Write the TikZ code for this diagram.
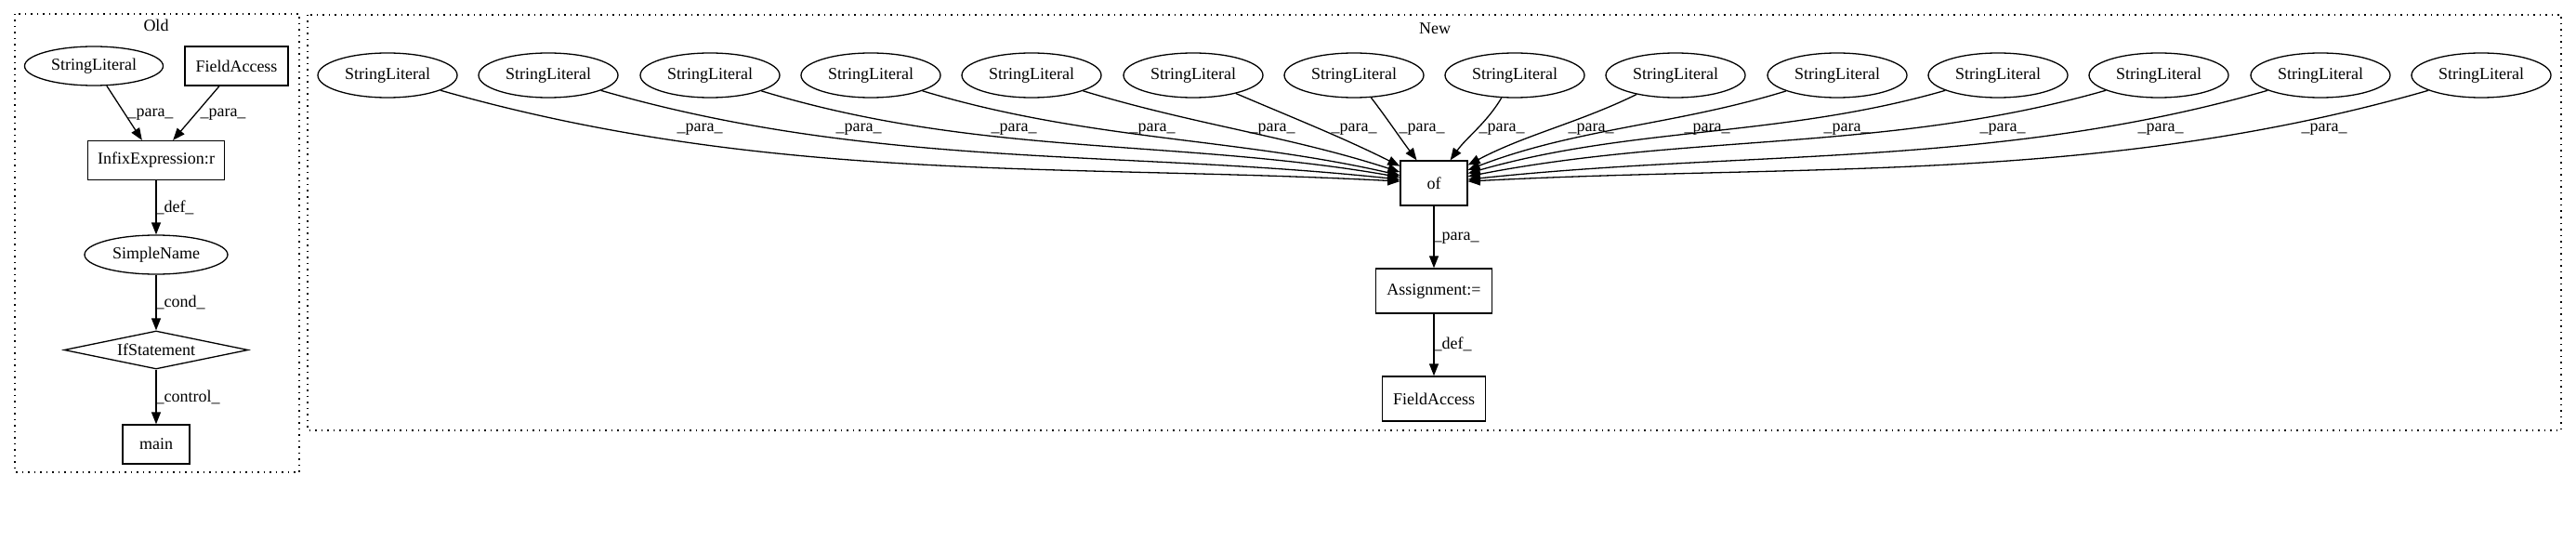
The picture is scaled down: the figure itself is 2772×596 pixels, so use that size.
\documentclass[tikz,border=0pt]{standalone}
\usepackage{fontspec}
\setmainfont{Liberation Serif}
\usetikzlibrary{shapes.geometric,arrows.meta}

\begin{document}
\begin{tikzpicture}[x=1pt,y=-1pt,line width=1.3pt,
    every node/.style={font=\fontsize{18}{20}\selectfont, inner sep=0pt},
    lit/.style={draw, ellipse, minimum width=150pt, minimum height=48pt},
    box/.style={draw, rectangle, minimum height=48pt},
    old/.style={minimum height=42pt},
    test/.style={draw, diamond, aspect=4.8, minimum width=198pt, minimum height=41pt},
    flow/.style={-{Triangle[length=13pt,width=10pt]}},
    cluster/.style={dash pattern=on 1.5pt off 5pt}]
\useasboundingbox (0,0) rectangle (2772,596);

%% The two dotted frames with their titles
    \draw[cluster] (16,15) rectangle (322,508);
    \draw[cluster] (331,16) rectangle (2756,463);
    \node (oldtitle) at (168,27) {Old};
    \node (newtitle) at (1544,31) {New};

%% Old: a single column under the infix expression
    \node[lit, old, minimum width=149pt] (oldlit) at (101,71) {StringLiteral};
    \node[box, old, minimum width=111pt] (oldfield) at (254.5,71) {FieldAccess};
    \node[box, old, minimum width=147pt] (infix) at (168,172.5) {InfixExpression:r};
    \node[lit, old, minimum width=154pt] (simple) at (168,274) {SimpleName};
    \node[test] (ifst) at (168,376.5) {IfStatement};
    \node[box, old, minimum width=72pt] (main) at (168,478) {main};

    \draw[flow] (oldlit) -- (infix.125);
    \draw[flow] (oldfield) -- (infix.50);
    \draw[flow] (infix) -- (simple);
    \draw[flow] (simple) -- (ifst);
    \draw[flow] (ifst) -- (main);

    \node (p1) at (162,123) {\_para\_};
    \node (p2) at (240,123) {\_para\_};
    \node (d1) at (188,223) {\_def\_};
    \node (c1) at (194,325) {\_cond\_};
    \node (c2) at (202,427) {\_control\_};

%% New: fourteen literals all feeding the call of
    \node[lit] (s1) at (417,81) {StringLiteral};
    \node[lit] (s2) at (590,81) {StringLiteral};
    \node[lit] (s3) at (764,81) {StringLiteral};
    \node[lit] (s4) at (937,81) {StringLiteral};
    \node[lit] (s5) at (1110,81) {StringLiteral};
    \node[lit] (s6) at (1284,81) {StringLiteral};
    \node[lit] (s7) at (1457,81) {StringLiteral};
    \node[lit] (s8) at (1630,81) {StringLiteral};
    \node[lit] (s9) at (1803,81) {StringLiteral};
    \node[lit] (s10) at (1977,81) {StringLiteral};
    \node[lit] (s11) at (2150,81) {StringLiteral};
    \node[lit] (s12) at (2323,81) {StringLiteral};
    \node[lit] (s13) at (2497,81) {StringLiteral};
    \node[lit] (s14) at (2670,81) {StringLiteral};

    \node[box, minimum width=72pt] (of) at (1543,197) {of};
    \node[box, minimum width=125pt] (assign) at (1543,313) {Assignment:=};
    \node[box, minimum width=111pt] (newfield) at (1543,429) {FieldAccess};

    \draw[flow] (s1) .. controls (828,198) and (1144,176) .. (of);
    \draw[flow] (s2) .. controls (940,182) and (1205,161) .. (of);
    \draw[flow] (s3) .. controls (1053,169) and (1267,149) .. (of);
    \draw[flow] (s4) .. controls (1169,151) and (1329,148) .. (of);
    \draw[flow] (s5) .. controls (1285,134) and (1389,147) .. (of);
    \draw[flow] (s6) .. controls (1392,127) and (1445,148) .. (of);
    \draw[flow] (s7) .. controls (1493,128) and (1507,149) .. (of);
    \draw[flow] (s8) .. controls (1600,132) and (1578,148) .. (of);
    \draw[flow] (s9) .. controls (1699,132) and (1641,145) .. (of);
    \draw[flow] (s10) .. controls (1803,134.5) and (1696,138) .. (of);
    \draw[flow] (s11) .. controls (1917,148) and (1756,136) .. (of);
    \draw[flow] (s12) .. controls (2032,164) and (1819,143) .. (of);
    \draw[flow] (s13) .. controls (2148,181) and (1882,161) .. (of);
    \draw[flow] (s14) .. controls (2262,198) and (1945,176) .. (of);
    \draw[flow] (of) -- (assign);
    \draw[flow] (assign) -- (newfield);

    \node (q1) at (753,139) {\_para\_};
    \node (q2) at (924,139) {\_para\_};
    \node (q3) at (1091,139) {\_para\_};
    \node (q4) at (1240,139) {\_para\_};
    \node (q5) at (1369,139) {\_para\_};
    \node (q6) at (1457,139) {\_para\_};
    \node (q7) at (1530,139) {\_para\_};
    \node (q8) at (1616,139) {\_para\_};
    \node (q9) at (1712,139) {\_para\_};
    \node (q10) at (1837,139) {\_para\_};
    \node (q11) at (1987,139) {\_para\_};
    \node (q12) at (2155,139) {\_para\_};
    \node (q13) at (2325,139) {\_para\_};
    \node (q14) at (2501,139) {\_para\_};
    \node (q15) at (1567,256) {\_para\_};
    \node (d2) at (1563,370) {\_def\_};
\end{tikzpicture}
\end{document}
